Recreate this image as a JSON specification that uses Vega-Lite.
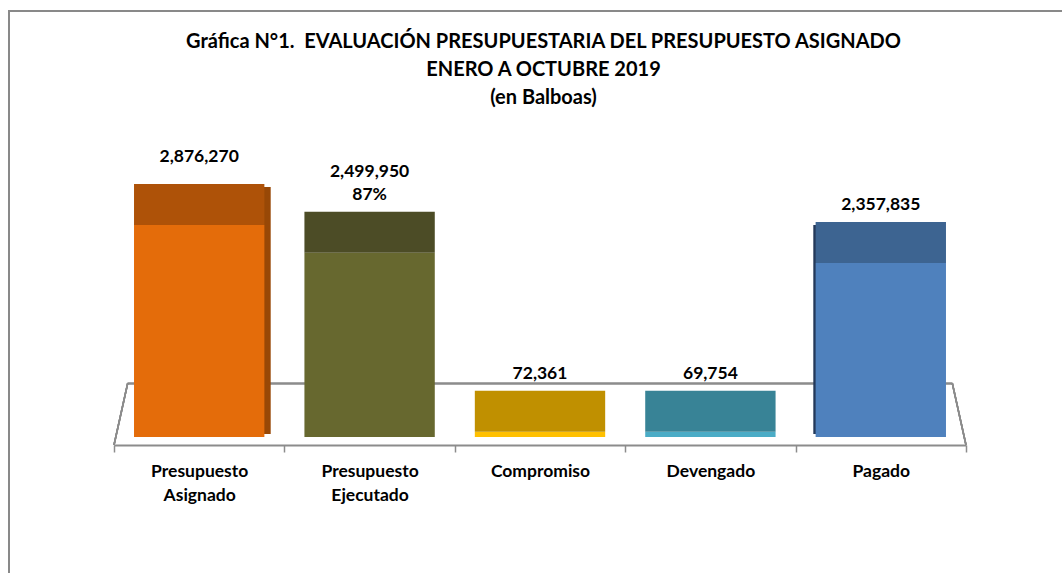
{
  "$schema": "https://vega.github.io/schema/vega-lite/v6.json",
  "width": 1061,
  "height": 575,
  "autosize": {"type": "none"},
  "padding": {"left": 9, "top": 11, "right": 0, "bottom": 0},
  "background": "white",
  "config": {"view": {"stroke": "#898989", "strokeWidth": 2}, "font": "Lato"},
  "title": {
    "text": ["Gráfica N°1.\u00a0 EVALUACIÓN PRESUPUESTARIA DEL PRESUPUESTO ASIGNADO", "ENERO A OCTUBRE 2019", "(en Balboas)"],
    "font": "Lato",
    "fontSize": 20,
    "fontWeight": "bold",
    "lineHeight": 28,
    "anchor": "middle",
    "offset": -97,
    "dx": 4,
    "color": "black"
  },
  "data": {
    "values": [
      {"cat": "Presupuesto Asignado", "value": 2876270, "label": "2,876,270", "pct": ""},
      {"cat": "Presupuesto Ejecutado", "value": 2499950, "label": "2,499,950", "pct": "87%"},
      {"cat": "Compromiso", "value": 72361, "label": "72,361", "pct": ""},
      {"cat": "Devengado", "value": 69754, "label": "69,754", "pct": ""},
      {"cat": "Pagado", "value": 2357835, "label": "2,357,835", "pct": ""}
    ]
  },
  "encoding": {
    "x": {
      "field": "cat",
      "type": "nominal",
      "scale": {
        "domain": ["Presupuesto Asignado", "Presupuesto Ejecutado", "Compromiso", "Devengado", "Pagado"],
        "range": [105, 957],
        "paddingInner": 0,
        "paddingOuter": 0
      },
      "axis": {
        "title": null,
        "offset": -141,
        "domainColor": "#8c8c8c",
        "domainWidth": 2,
        "tickColor": "#8c8c8c",
        "tickWidth": 1.5,
        "tickSize": 7,
        "tickBand": "extent",
        "labelFont": "Lato",
        "labelFontSize": 17.5,
        "labelFontWeight": "bold",
        "labelColor": "black",
        "labelPadding": 10,
        "labelLineHeight": 24,
        "labelAngle": 0,
        "labelExpr": "split(datum.label, ' ')"
      }
    },
    "y": {
      "field": "value",
      "type": "quantitative",
      "scale": {"domain": [0, 5000000], "range": [426, 57.25], "nice": false},
      "axis": null
    }
  },
  "layer": [
    {
      "mark": {"type": "rule", "color": "#8c8c8c", "strokeWidth": 1.5},
      "encoding": {
        "x": {"datum": "Presupuesto Asignado", "type": "nominal", "bandPosition": 0.08},
        "x2": {"datum": "Pagado", "bandPosition": 0.92},
        "y": {"datum": 725400, "type": "quantitative"}
      }
    },
    {
      "mark": {"type": "rule", "color": "#8c8c8c", "strokeWidth": 1.5},
      "encoding": {
        "x": {"datum": "Presupuesto Asignado", "type": "nominal", "bandPosition": 0.08},
        "x2": {"datum": "Presupuesto Asignado", "bandPosition": 0},
        "y": {"datum": 725400, "type": "quantitative"},
        "y2": {"datum": -108500}
      }
    },
    {
      "mark": {"type": "rule", "color": "#8c8c8c", "strokeWidth": 1.5},
      "encoding": {
        "x": {"datum": "Pagado", "type": "nominal", "bandPosition": 0.92},
        "x2": {"datum": "Pagado", "bandPosition": 1},
        "y": {"datum": 725400, "type": "quantitative"},
        "y2": {"datum": -108500}
      }
    },
    {
      "transform": [{"filter": "datum.cat == 'Presupuesto Asignado'"}],
      "mark": {"type": "bar", "width": 7, "xOffset": 68, "yOffset": -38, "y2Offset": -3, "color": "#984806"},
      "encoding": {"y2": {"datum": 0}}
    },
    {
      "transform": [{"filter": "datum.cat == 'Pagado'"}],
      "mark": {"type": "bar", "width": 7, "xOffset": -64, "yOffset": -38, "y2Offset": -3, "color": "#24395A"},
      "encoding": {"y2": {"datum": 0}}
    },
    {
      "mark": {"type": "bar", "width": {"band": 0.765}},
      "encoding": {
        "color": {
          "field": "cat",
          "type": "nominal",
          "scale": {
            "domain": ["Presupuesto Asignado", "Presupuesto Ejecutado", "Compromiso", "Devengado", "Pagado"],
            "range": ["#E46C0A", "#67682F", "#FFC000", "#4BACC6", "#4F81BD"]
          },
          "legend": null
        }
      }
    },
    {
      "mark": {"type": "bar", "width": {"band": 0.765}, "y2Offset": -41},
      "encoding": {
        "y2": {"field": "value"},
        "fill": {
          "field": "cat",
          "type": "nominal",
          "scale": {
            "domain": ["Presupuesto Asignado", "Presupuesto Ejecutado", "Compromiso", "Devengado", "Pagado"],
            "range": ["#AE5208", "#4C4C26", "#C09000", "#388396", "#3D6491"]
          },
          "legend": null
        }
      }
    },
    {
      "transform": [{"filter": "datum.pct == '' && datum.cat != 'Presupuesto Asignado'"}],
      "mark": {"type": "text", "font": "Lato", "fontSize": 17.5, "fontWeight": "bold", "color": "black", "baseline": "middle", "yOffset": -58},
      "encoding": {"text": {"field": "label", "type": "nominal"}}
    },
    {
      "transform": [{"filter": "datum.cat == 'Presupuesto Asignado'"}],
      "mark": {"type": "text", "font": "Lato", "fontSize": 17.5, "fontWeight": "bold", "color": "black", "baseline": "middle", "yOffset": -68},
      "encoding": {"text": {"field": "label", "type": "nominal"}}
    },
    {
      "transform": [{"filter": "datum.pct != ''"}],
      "mark": {"type": "text", "font": "Lato", "fontSize": 17.5, "fontWeight": "bold", "color": "black", "baseline": "middle", "yOffset": -81},
      "encoding": {"text": {"field": "label", "type": "nominal"}}
    },
    {
      "transform": [{"filter": "datum.pct != ''"}],
      "mark": {"type": "text", "font": "Lato", "fontSize": 17.5, "fontWeight": "bold", "color": "black", "baseline": "middle", "yOffset": -58},
      "encoding": {"text": {"field": "pct", "type": "nominal"}}
    }
  ],
  "resolve": {"scale": {"color": "independent", "fill": "independent"}}
}
